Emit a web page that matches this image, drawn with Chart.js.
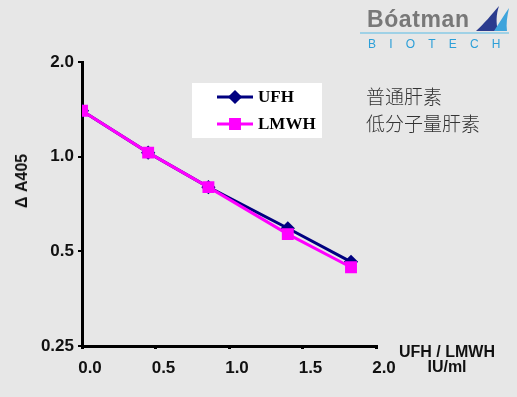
<!DOCTYPE html>
<html>
<head>
<meta charset="utf-8">
<script src="https://cdn.jsdelivr.net/npm/chart.js@4/dist/chart.umd.min.js"></script>
<style>
  html, body { margin: 0; padding: 0; background: #e7e7e7; }
  #wrap { position: relative; width: 517px; height: 397px; overflow: hidden; background: #e7e7e7; }
  canvas { position: absolute; left: 0; top: 0; }
  .txt { position: absolute; white-space: nowrap; }
  .cn { font-family: "Noto Sans CJK SC", sans-serif; font-size: 19px; color: #333; font-weight: 300; line-height: 1; }
  .unit { font-family: "Liberation Sans", Arial, sans-serif; font-weight: bold; font-size: 16px; color: #111; text-align: center; line-height: 1; }
  .ytitle { font-family: "Liberation Sans", Arial, sans-serif; font-weight: bold; font-size: 16px; color: #111; line-height: 1; transform: translate(-50%, -50%) rotate(-90deg); }
  .logo1 { font-family: "Liberation Sans", Arial, sans-serif; font-weight: bold; font-size: 23px; color: #787878; letter-spacing: 0.6px; line-height: 1; }
  .logo2 { font-family: "Liberation Sans", Arial, sans-serif; font-size: 12px; color: #2c9fd8; letter-spacing: 13.2px; line-height: 1; }
</style>
</head>
<body>
<div id="wrap">
  <canvas id="c" width="517" height="397"></canvas>
  <div class="txt logo1" style="left:367px; top:8px;">Bóatman</div>
  <svg style="position:absolute; left:474px; top:5px;" width="36" height="27" viewBox="0 0 36 27">
    <path d="M2 26 C10 19 18 9 25 1 C22 10 22 18 24 26 Z" fill="#2b3b8e"/>
    <path d="M20 26 C26 17 30 10 35 3 C33 12 32 19 33 26 Z" fill="#3ea4dc"/>
  </svg>
  <div style="position:absolute; left:360px; top:32px; width:149px; height:2px; background:#9fd1e6;"></div>
  <div class="txt logo2" style="left:368px; top:38px;">BIOTECH</div>
  <div class="txt cn" style="left:366px; top:86px;">普通肝素</div>
  <div class="txt cn" style="left:366px; top:113px;">低分子量肝素</div>
  <div class="txt unit" style="left:397px; top:344px; width:100px;">UFH / LMWH</div>
  <div class="txt unit" style="left:397px; top:359px; width:100px;">IU/ml</div>
  <div class="txt ytitle" style="left:22px; top:181px;">Δ A405</div>
</div>
<script>
// ---- data ----
const doses = [0, 0.45, 0.86, 1.4, 1.83];          // IU/ml
const ufhValues = [1.40, 1.03, 0.80, 0.592, 0.463]; // Δ A405
const lmwhValues = [1.40, 1.03, 0.80, 0.567, 0.445];
const xTickValues = [0, 0.5, 1.0, 1.5, 2.0];
const xTickLabels = ['0.0', '0.5', '1.0', '1.5', '2.0'];
const yTickValues = [0.25, 0.5, 1.0, 2.0];
const yTickLabels = ['0.25', '0.5', '1.0', '2.0'];
const seriesNames = ['UFH', 'LMWH'];

const toPts = (vals) => doses.map((d, i) => ({ x: d, y: vals[i] }));

const legendPlugin = {
  id: 'boxLegend',
  afterDraw(chart) {
    const ctx = chart.ctx;
    ctx.save();
    ctx.fillStyle = '#ffffff';
    ctx.fillRect(192, 83, 130, 55);
    chart.data.datasets.forEach((ds, i) => {
      const y = 97 + i * 27;
      ctx.strokeStyle = ds.borderColor;
      ctx.lineWidth = 3;
      ctx.beginPath();
      ctx.moveTo(217, y);
      ctx.lineTo(253, y);
      ctx.stroke();
      Chart.helpers.drawPoint(ctx, {
        pointStyle: ds.pointStyle, radius: ds.pointRadius, borderWidth: 1
      }, 235, y);
      ctx.fillStyle = ds.borderColor;
      ctx.fill();
      ctx.fillStyle = '#000';
      ctx.font = 'bold 17px "Liberation Serif", "Times New Roman", serif';
      ctx.textBaseline = 'middle';
      ctx.textAlign = 'left';
      ctx.fillText(ds.label, 258, y + 1);
    });
    ctx.restore();
  }
};

new Chart(document.getElementById('c'), {
  type: 'line',
  data: {
    datasets: [
      {
        label: seriesNames[0],
        data: toPts(ufhValues),
        borderColor: '#000080',
        backgroundColor: '#000080',
        pointBackgroundColor: '#000080',
        pointBorderColor: '#000080',
        pointStyle: 'rectRot',
        pointRadius: 5,
        borderWidth: 3,
        tension: 0,
        order: 1
      },
      {
        label: seriesNames[1],
        data: toPts(lmwhValues),
        borderColor: '#ff00ff',
        backgroundColor: '#ff00ff',
        pointBackgroundColor: '#ff00ff',
        pointBorderColor: '#ff00ff',
        pointStyle: 'rect',
        pointRadius: 6.3,
        borderWidth: 3,
        tension: 0,
        order: 0
      }
    ]
  },
  options: {
    responsive: false,
    animation: false,
    events: [],
    layout: { padding: { left: 0, top: 62, right: 141, bottom: 21 } },
    plugins: { legend: { display: false }, tooltip: { enabled: false } },
    scales: {
      x: {
        type: 'linear',
        min: 0,
        max: 2,
        afterFit(s) { s.height = 30; },
        afterBuildTicks(s) { s.ticks = xTickValues.map(v => ({ value: v })); },
        ticks: {
          callback: (v) => xTickLabels[xTickValues.indexOf(v)] ?? '',
          color: '#111',
          font: { family: '"Liberation Sans", Arial, sans-serif', weight: 'bold', size: 17 },
          padding: 9,
          labelOffset: 8,
          maxRotation: 0
        },
        grid: { display: true, drawOnChartArea: false, drawTicks: true, tickLength: 3, color: '#000', lineWidth: 3 },
        border: { display: true, color: '#000', width: 3 }
      },
      y: {
        type: 'logarithmic',
        min: 0.25,
        max: 2,
        afterFit(s) { s.width = 82; },
        afterBuildTicks(s) { s.ticks = yTickValues.map(v => ({ value: v })); },
        ticks: {
          callback: (v) => yTickLabels[yTickValues.indexOf(v)] ?? '',
          color: '#111',
          font: { family: '"Liberation Sans", Arial, sans-serif', weight: 'bold', size: 17 },
          padding: 4
        },
        grid: { display: true, drawOnChartArea: false, drawTicks: true, tickLength: 4, color: '#000', lineWidth: 2 },
        border: { display: true, color: '#000', width: 3 }
      }
    }
  },
  plugins: [legendPlugin]
});
</script>
</body>
</html>
